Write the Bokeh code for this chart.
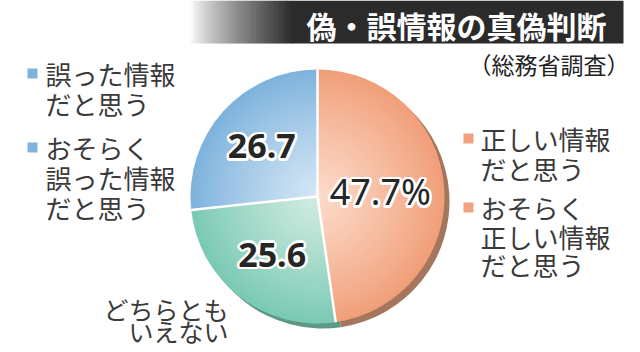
import numpy as np
from bokeh.plotting import figure
from bokeh.models import Range1d
from bokeh.core.properties import value
from bokeh.embed import file_html
from bokeh.resources import INLINE

# ---------------- data ----------------
categories = ["正しい情報だと思う・おそらく正しい情報だと思う", "どちらともいえない",
              "誤った情報だと思う・おそらく誤った情報だと思う"]
shares = [47.7, 25.6, 26.7]
value_labels = ["47.7%", "25.6", "26.7"]
title_text = "偽・誤情報の真偽判断"
source_text = "（総務省調査）"
legend_right = [["正しい情報", "だと思う"], ["おそらく", "正しい情報", "だと思う"]]
legend_left = [["誤った情報", "だと思う"], ["おそらく", "誤った情報", "だと思う"]]
neutral_label = ["どちらとも", "いえない"]

# ---------------- style ----------------
W, H = 640, 352
def Y(py):
    return H - py

outer_cols = ["#F19F79", "#7ACAB4", "#7EB3DD"]
inner_cols = ["#FCDCCB", "#D2ECE2", "#D6E7F6"]
shadow_cols = ["#A4765E", "#5E9887", "#6E9CC0"]
label_r = [63, 74, 75]
label_size = ["36px", "34px", "34px"]
label_style = ["normal", "bold", "bold"]
CX, CY, R = 317, 196, 127
JP = "Noto Sans CJK JP"
TXT = "#3a3a3a"

p = figure(width=W, height=H, x_range=Range1d(0, W), y_range=Range1d(0, H),
           output_backend="svg", toolbar_location=None, min_border=0)
p.axis.visible = False
p.grid.visible = False
p.outline_line_color = None
p.background_fill_color = "white"

# ---------------- title bar ----------------
g0, g1, bar_r = 190, 292, 623
dark = np.array([0x2b, 0x2b, 0x2b])
n = 40
edges = np.linspace(g0, g1, n + 1)
cols = []
for i in range(n):
    t = (i + 0.5) / n
    t = t ** 0.8
    c = (np.array([255, 255, 255]) * (1 - t) + dark * t).astype(int)
    cols.append("#%02x%02x%02x" % tuple(c))
p.quad(left=edges[:-1], right=edges[1:] + 0.6, top=Y(0), bottom=Y(43), fill_color=cols, line_color=None)
p.quad(left=[g1], right=[bar_r], top=Y(0), bottom=Y(43), fill_color="#2b2b2b", line_color=None)
p.text(x=[456], y=[Y(24)], text=[title_text], text_font=value(JP), text_font_size="30px",
       text_font_style="bold", text_color="white", text_align="center", text_baseline="middle")
p.text(x=[629], y=[Y(63)], text=[source_text], text_font=value(JP), text_font_size="23px",
       text_color="#222222", text_align="right", text_baseline="middle")

# ---------------- pie ----------------
fr = np.array(shares) / sum(shares)
cw_end = np.cumsum(fr) * 2 * np.pi
cw_start = cw_end - fr * 2 * np.pi
start = np.pi / 2 - cw_end
end = np.pi / 2 - cw_start

# shadow
p.wedge(x=CX + 5, y=Y(CY) - 5, radius=R, start_angle=start, end_angle=end,
        fill_color=shadow_cols, line_color=None)

def hex2rgb(h):
    return np.array([int(h[i:i + 2], 16) for i in (1, 3, 5)])

steps = 36
for k in range(steps):
    t = k / (steps - 1)
    rad = R * (1 - t * 0.97)
    cs = []
    for o, i_ in zip(outer_cols, inner_cols):
        c = hex2rgb(o) * (1 - t ** 0.9) + hex2rgb(i_) * (t ** 0.9)
        cs.append("#%02x%02x%02x" % tuple(c.astype(int)))
    p.wedge(x=CX, y=Y(CY), radius=rad, start_angle=start, end_angle=end,
            fill_color=cs, line_color=None)

# separators
for a in cw_start:
    p.line(x=[CX, CX + R * np.sin(a)], y=[Y(CY), Y(CY) + R * np.cos(a)], line_color="white", line_width=2.5)

# value labels with white halo
mid = (cw_start + cw_end) / 2
lx = [CX + r * np.sin(m) for r, m in zip(label_r, mid)]
ly = [Y(CY) + r * np.cos(m) for r, m in zip(label_r, mid)]
halo = [(2.5 * np.cos(a), 2.5 * np.sin(a)) for a in np.linspace(0, 2 * np.pi, 12, endpoint=False)]
for x, y, t, s, st in zip(lx, ly, value_labels, label_size, label_style):
    for dx, dy in halo:
        p.text(x=[x + dx], y=[y + dy], text=[t], text_font=value("Noto Sans"), text_font_size=s,
               text_font_style=st, text_color="white", text_align="center", text_baseline="middle")
    p.text(x=[x], y=[y], text=[t], text_font=value("Noto Sans"), text_font_size=s,
           text_font_style=st, text_color="#262626", text_align="center", text_baseline="middle")

# ---------------- legends ----------------
def block(lines_groups, x, ys, sq_x, color):
    for lines, yy in zip(lines_groups, ys):
        p.scatter(x=[sq_x], y=[Y(yy[0])], marker="square", size=10, fill_color=color, line_color=None)
        p.text(x=[x] * len(lines), y=[Y(v) for v in yy], text=lines, text_font=value(JP),
               text_font_size="26px", text_color=TXT, text_align="left", text_baseline="middle")

block(legend_left, 45, [[73, 103], [147, 177, 207]], 32, "#7DB3DC")
block(legend_right, 480, [[138, 168], [207, 236, 264]], 468, "#F2A27E")
p.text(x=[228, 228], y=[Y(308), Y(330)], text=neutral_label, text_font=value(JP),
       text_font_size="25px", text_color=TXT, text_align="right", text_baseline="middle")

open("out.html", "w").write(file_html(p, INLINE))
